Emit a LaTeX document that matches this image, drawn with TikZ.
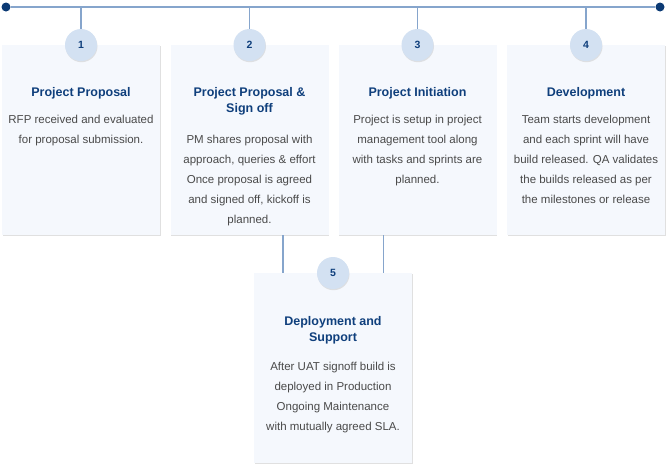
\documentclass[tikz,border=0pt]{standalone}
\usepackage{fontspec}
\setmainfont{Liberation Sans}
\usetikzlibrary{shadows}
\definecolor{linecol}{HTML}{86A5CC}
\definecolor{dotcol}{HTML}{0B3A74}
\definecolor{cardcol}{HTML}{F5F8FD}
\definecolor{badgecol}{HTML}{D3E1F2}
\definecolor{titlecol}{HTML}{0F3F7C}
\definecolor{bodycol}{HTML}{4A4A4A}
\tikzset{
  card/.style={fill=cardcol, anchor=north, minimum width=158pt, minimum height=190pt,
    drop shadow={shadow xshift=0.6pt, shadow yshift=-1.2pt, opacity=0.35, fill=black!35}},
  badge/.style={circle, fill=badgecol, minimum size=32pt, inner sep=0pt, text=titlecol,
    font=\fontsize{10.5}{12}\selectfont\bfseries,
    drop shadow={shadow xshift=0.5pt, shadow yshift=-1.2pt, opacity=0.3, fill=black!35}},
  title/.style={anchor=north, align=center, inner sep=0pt, text=titlecol,
    font=\fontsize{12.5}{16}\selectfont\bfseries},
  body/.style={anchor=north, align=center, inner sep=0pt, text=bodycol,
    font=\fontsize{11.5}{20}\selectfont},
  link/.style={draw=linecol, line width=1.1pt}
}
\begin{document}
\begin{tikzpicture}[x=1pt,y=-1pt]
  \useasboundingbox (0,0) rectangle (669,469);
  % cards
  \node[card] (c1) at (81,45) {};
  \node[card] (c2) at (249.5,45) {};
  \node[card] (c3) at (417.5,45) {};
  \node[card] (c4) at (586,45) {};
  \node[card, minimum height=190pt] (c5) at (333,273) {};
  % timeline
  \node[circle, fill=dotcol, minimum size=9pt, inner sep=0pt] (ldot) at (6,7) {};
  \node[circle, fill=dotcol, minimum size=9pt, inner sep=0pt] (rdot) at (660,7) {};
  \draw[link] (ldot) -- (rdot);
  \node[badge] (b1) at (81,45) {1};
  \node[badge] (b2) at (249.5,45) {2};
  \node[badge] (b3) at (417.5,45) {3};
  \node[badge] (b4) at (586,45) {4};
  \draw[link] (b1 |- ldot) -- (b1);
  \draw[link] (b2 |- ldot) -- (b2);
  \draw[link] (b3 |- ldot) -- (b3);
  \draw[link] (b4 |- ldot) -- (b4);
  % drop to step 5
  \coordinate (j2) at (283,235);
  \coordinate (j3) at (383.5,235);
  \draw[link] (j2) -- (j2 |- c5.north);
  \draw[link] (j3) -- (j3 |- c5.north);
  \node[badge] (b5) at (333,273) {5};
  % texts
  \node[title] (t1) at (81,87) {Project Proposal};
  \node[body] (d1) at (81,115) {RFP received and evaluated\\for proposal submission.};
  \node[title] (t2) at (249.5,87) {Project Proposal \&\\Sign off};
  \node[body] (d2) at (249.5,135) {PM shares proposal with\\approach, queries \& effort\\Once proposal is agreed\\and signed off, kickoff is\\planned.};
  \node[title] (t3) at (417.5,87) {Project Initiation};
  \node[body] (d3) at (417.5,115) {Project is setup in project\\management tool along\\with tasks and sprints are\\planned.};
  \node[title] (t4) at (586,87) {Development};
  \node[body] (d4) at (586,115) {Team starts development\\and each sprint will have\\build released. QA validates\\the builds released as per\\the milestones or release};
  \node[title] (t5) at (333,316) {Deployment and\\Support};
  \node[body] (d5) at (333,362) {After UAT signoff build is\\deployed in Production\\Ongoing Maintenance\\with mutually agreed SLA.};
\end{tikzpicture}
\end{document}
